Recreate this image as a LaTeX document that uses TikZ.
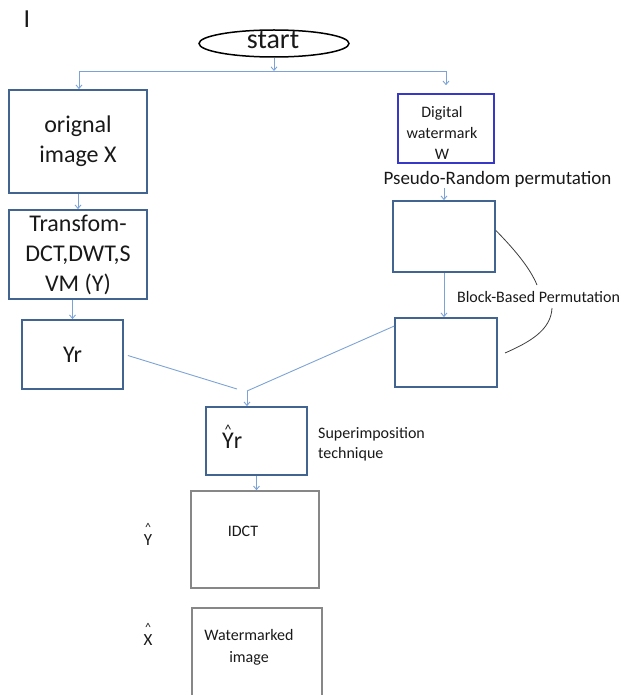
\documentclass[tikz,border=0pt]{standalone}
\usepackage{fontspec}
\setmainfont{Carlito}
\usetikzlibrary{arrows.meta,shapes.geometric}
\definecolor{boxblue}{RGB}{65,100,145}
\definecolor{connblue}{RGB}{125,163,214}
\definecolor{wmblue}{RGB}{55,55,200}
\definecolor{boxgray}{RGB}{135,135,135}
\definecolor{curvegray}{RGB}{60,60,60}
\definecolor{inktext}{RGB}{25,25,25}
\newcommand{\hatover}[3]{\leavevmode\setbox0\hbox{#1}\rlap{\hbox to \wd0{\hss\raisebox{#2}{\fontsize{#3}{#3}\selectfont\textasciicircum}\hss}}\box0}
\begin{document}
\begin{tikzpicture}[x=1pt,y=-1pt,
  bluebox/.style={draw=boxblue, line width=1.8pt, rectangle, inner sep=0pt, text=inktext, align=center},
  graybox/.style={draw=boxgray, line width=1.6pt, rectangle, inner sep=0pt},
  wmbox/.style={draw=wmblue, line width=1.6pt, rectangle, inner sep=0pt},
  conn/.style={draw=connblue, line width=0.9pt},
  arr/.style={conn, -{Straight Barb[length=3.5pt,width=6pt,line width=0.9pt]}},
  lbl/.style={inner sep=0pt, text=inktext},
  curv/.style={draw=curvegray, line width=0.8pt},
  big/.style={font=\fontsize{24}{30}\selectfont},
  small/.style={font=\fontsize{16}{21}\selectfont}]
\useasboundingbox (0,0) rectangle (622,695);
\clip (0,0) rectangle (622,695);

% stray cursor mark
\node[lbl, font=\fontsize{26}{26}\selectfont, anchor=base] (cursor) at (27,28) {I};

% start
\node[draw=black, line width=1.5pt, ellipse, minimum width=150pt, minimum height=27pt, inner sep=0pt] (start) at (274,43.5) {};
\node[lbl, font=\fontsize{28}{28}\selectfont, anchor=base] (starttext) at (273,49) {start};

% left column
\node[bluebox, big, minimum width=138pt, minimum height=103pt] (orig) at (78,141.5) {orignal\\image X};
\node[bluebox, big, minimum width=138pt, minimum height=89pt] (trans) at (78,254.5) {Transfom-\\DCT,DWT,S\\VM (Y)};
\node[bluebox, big, minimum width=101pt, minimum height=69pt] (yr) at (72.5,354.5) {Yr};

% right column
\node[wmbox, minimum width=96pt, minimum height=69pt] (wm) at (446,128.5) {};
\node[lbl, small, align=center] (wmtext) at (442,133.4) {Digital\\watermark\\W};
\node[lbl, font=\fontsize{19}{19}\selectfont, anchor=base] (pseudo) at (497.5,184) {Pseudo-Random permutation};
\node[bluebox, minimum width=102pt, minimum height=71pt] (box2) at (444,236.5) {};
\node[bluebox, minimum width=102pt, minimum height=69pt] (box3) at (446,352.5) {};
\node[lbl, small, anchor=base] (bbp) at (538.5,302) {Block-Based Permutation};

% bottom
\node[bluebox, minimum width=101pt, minimum height=68pt] (yhr) at (256.5,441) {};
\node[lbl, big, anchor=base west] (yhrtext) at (222,448) {\hatover{Y}{14pt}{14}r};
\node[lbl, font=\fontsize{16}{20}\selectfont, align=left, anchor=west] (sup) at (318,444.7) {Superimposition\\technique};
\node[graybox, minimum width=128pt, minimum height=97pt] (idct) at (255,539.5) {};
\node[lbl, small, anchor=base] (idcttext) at (243,536) {IDCT};
\node[lbl, font=\fontsize{17}{17}\selectfont, anchor=base] (yhat) at (148,545) {\hatover{Y}{13.5pt}{12}};
\node[graybox, minimum width=130pt, minimum height=97pt] (wmimg) at (257,656.5) {};
\node[lbl, font=\fontsize{16}{22}\selectfont, align=center] (wmimgtext) at (249,647) {Watermarked\\image};
\node[lbl, font=\fontsize{17}{17}\selectfont, anchor=base] (xhat) at (148,645) {\hatover{X}{13.5pt}{12}};

% connectors
\coordinate (jl) at (79,71);
\coordinate (jr) at (446,71);
\coordinate (m) at (247,391);
\coordinate (mL) at (237,389);
\coordinate (c1) at (537,285);
\coordinate (c2) at (552,308);
\coordinate (c3) at (505,353);

\draw[arr] (start.south) -- (start.south |- jl);
\draw[conn] (jl) -- (jr);
\draw[arr] (jl) -- (jl |- orig.north);
\draw[arr] (jr) -- ([yshift=8pt]wm.north);
\draw[arr] (orig.south) -- (trans.north);
\draw[arr] (yr.north |- trans.south) -- (yr.north);
\draw[arr] ([yshift=12pt]box2.north) -- (box2.north);
\draw[arr] (box2.south) -- (box2.south |- box3.north);
\draw[conn] ([xshift=4pt,yshift=-1pt]yr.east) -- (mL);
\draw[conn] ([yshift=-9pt]box3.north west) -- (m);
\draw[arr] (m) -- (m |- yhr.north);
\draw[arr] (yhr.south) -- (yhr.south |- idct.north);

\draw[curv] ([yshift=6pt]box2.east) .. controls (515,250) and (530,268) .. (c1);
\draw[curv] (c2) .. controls (551,330) and (530,342) .. (c3);
\end{tikzpicture}
\end{document}
